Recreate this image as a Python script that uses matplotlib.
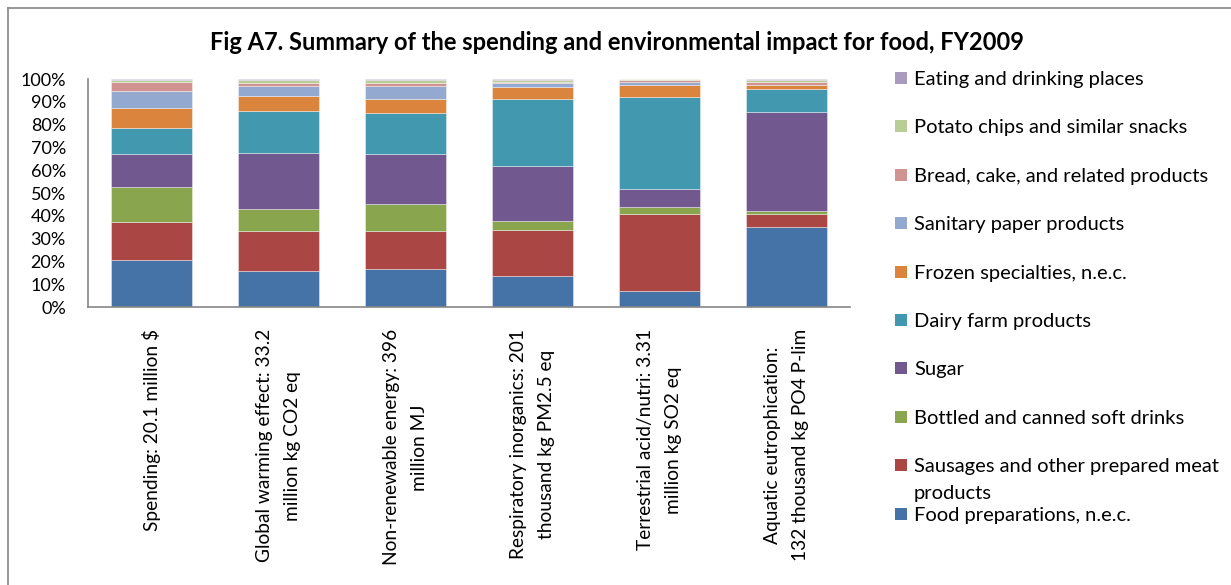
import matplotlib
matplotlib.use("Agg")
import matplotlib.pyplot as plt
import numpy as np
from matplotlib.patches import Rectangle
from matplotlib.lines import Line2D

plt.rcParams['font.family'] = ['Lato', 'DejaVu Sans']

# impact categories (x axis)
categories = [
    "Spending: 20.1 million $",
    "Global warming effect: 33.2\nmillion kg CO2 eq",
    "Non-renewable energy: 396\nmillion MJ",
    "Respiratory inorganics: 201\nthousand kg PM2.5 eq",
    "Terrestrial acid/nutri: 3.31\nmillion kg SO2 eq",
    "Aquatic eutrophication:\n132 thousand kg PO4 P-lim",
]

# share of each sector, percent (bottom to top of the stack)
food_preparations = [20.6, 15.9, 16.7, 13.4, 7.0, 35.1]
sausages = [16.7, 17.3, 16.5, 20.2, 33.9, 5.8]
soft_drinks = [15.5, 10.0, 12.0, 4.3, 3.0, 1.2]
sugar = [14.1, 24.5, 21.7, 23.8, 7.9, 43.3]
dairy = [11.4, 18.4, 18.0, 29.7, 40.1, 10.0]
frozen = [8.8, 6.6, 6.5, 4.9, 5.3, 1.8]
sanitary_paper = [7.5, 4.2, 5.4, 1.9, 1.3, 0.3]
bread_cake = [3.9, 1.5, 1.6, 0.7, 0.9, 1.2]
potato_chips = [1.1, 1.2, 1.2, 0.7, 0.4, 0.9]
eating_places = [0.4, 0.4, 0.4, 0.4, 0.2, 0.4]

series = [
    ("Food preparations, n.e.c.", food_preparations, "#4572A7"),
    ("Sausages and other prepared meat\nproducts", sausages, "#AA4643"),
    ("Bottled and canned soft drinks", soft_drinks, "#89A54E"),
    ("Sugar", sugar, "#71588F"),
    ("Dairy farm products", dairy, "#4198AF"),
    ("Frozen specialties, n.e.c.", frozen, "#DB843D"),
    ("Sanitary paper products", sanitary_paper, "#93A9CF"),
    ("Bread, cake, and related products", bread_cake, "#D19392"),
    ("Potato chips and similar snacks", potato_chips, "#B9CD96"),
    ("Eating and drinking places", eating_places, "#A99BBD"),
]

W, H = 1231, 585
fig = plt.figure(figsize=(W / 100, H / 100), dpi=100)
ax = fig.add_axes([88 / W, 1 - 307 / H, (850 - 88) / W, (307 - 79) / H])

x = np.arange(len(categories))
bottom = np.zeros(len(categories))
for name, vals, color in series:
    vals = np.array(vals)
    ax.bar(x, vals, 0.645, bottom=bottom, color=color,
           edgecolor=(1, 1, 1, 0.45), linewidth=0.6)
    bottom += vals

ax.set_xlim(-0.5, len(categories) - 0.5)
ax.set_ylim(0, 100)
ax.set_yticks(np.arange(0, 101, 10))
ax.set_yticklabels([f"{v}%" for v in range(0, 101, 10)], fontsize=13)
ax.set_xticks(x)
ax.set_xticklabels(categories, rotation=90, ha='center', va='top',
                   multialignment='center', fontsize=13.8, linespacing=1.75)
ax.tick_params(axis='y', length=0, pad=16)
ax.tick_params(axis='x', length=0, pad=16)
for s in ['top', 'right']:
    ax.spines[s].set_visible(False)
for s in ['left', 'bottom']:
    ax.spines[s].set_color('#868686')
    ax.spines[s].set_linewidth(1.2)

fig.text(617 / W, 1 - 42 / H,
         "Fig A7. Summary of the spending and environmental impact for food, FY2009",
         ha='center', va='center', fontsize=17, fontweight='bold')

# legend, top entry first
for i, (name, vals, color) in enumerate(reversed(series)):
    yc = 78 + i * 48.4
    fig.patches.append(Rectangle((895 / W, 1 - (yc + 6) / H), 12 / W, 12 / H,
                                 transform=fig.transFigure, facecolor=color,
                                 edgecolor='none'))
    fig.text(914 / W, 1 - (yc + 7) / H, name.split("\n")[0], ha='left',
             va='baseline', fontsize=14.5)
    if "\n" in name:
        fig.text(914 / W, 1 - (yc + 34) / H, name.split("\n")[1], ha='left',
                 va='baseline', fontsize=14.5)

# chart border (top and left edges)
fig.add_artist(Line2D([8 / W, 1], [1 - 8 / H, 1 - 8 / H], color='#868686', lw=1.2))
fig.add_artist(Line2D([8 / W, 8 / W], [0, 1 - 8 / H], color='#868686', lw=1.2))

fig.savefig("out.png", dpi=100)
